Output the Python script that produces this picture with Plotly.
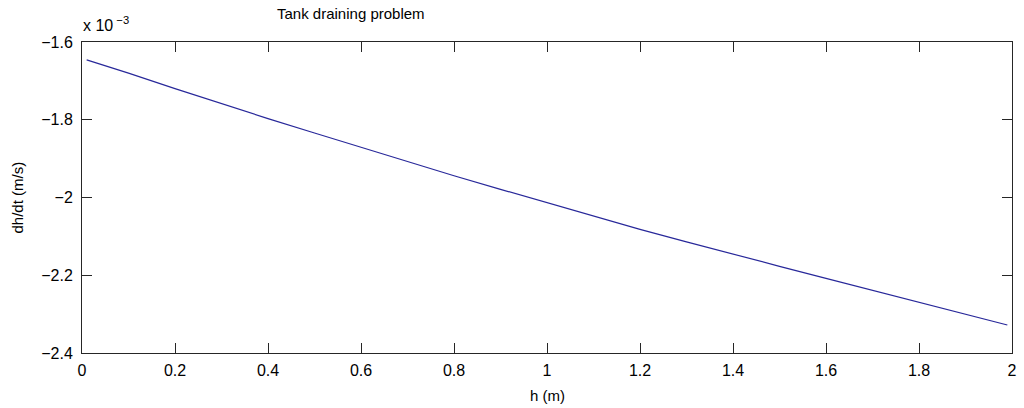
import plotly.graph_objects as go

# Liquid height in the tank (m)
h_m = [0.01, 0.1, 0.2, 0.3, 0.4, 0.5, 0.6, 0.7, 0.8, 0.9, 1.0,
       1.1, 1.2, 1.3, 1.4, 1.5, 1.6, 1.7, 1.8, 1.9, 1.99]
# Rate of level change, in units of 1e-3 m/s
dhdt_e3 = [-1.646, -1.680, -1.720, -1.759, -1.797, -1.834, -1.871, -1.908,
           -1.944, -1.979, -2.014, -2.048, -2.082, -2.114, -2.146, -2.177,
           -2.208, -2.239, -2.270, -2.300, -2.328]

x_ticks = [0, 0.2, 0.4, 0.6, 0.8, 1, 1.2, 1.4, 1.6, 1.8, 2]
x_tick_text = ["0", "0.2", "0.4", "0.6", "0.8", "1", "1.2", "1.4", "1.6", "1.8", "2"]
y_ticks = [-2.4, -2.2, -2.0, -1.8, -1.6]
y_tick_text = ["\u22122.4", "\u22122.2", "\u22122", "\u22121.8", "\u22121.6"]

FONT = "Liberation Sans, Arial, Helvetica, sans-serif"
AX = "#262626"

fig = go.Figure()
fig.add_trace(go.Scatter(
    x=h_m, y=dhdt_e3, mode="lines",
    line=dict(color="#28289a", width=1.2),
    showlegend=False, hoverinfo="skip",
))

axis_common = dict(
    showgrid=False, zeroline=False, showline=True, linecolor=AX, linewidth=1,
    mirror="allticks", ticks="inside", ticklen=10, tickwidth=1, tickcolor=AX,
    tickfont=dict(family=FONT, size=16, color="#000000"),
)

fig.update_layout(
    width=1024, height=408,
    margin=dict(l=82, r=7, t=42, b=55),
    paper_bgcolor="white", plot_bgcolor="white",
    font=dict(family=FONT, color="#000000"),
    xaxis=dict(range=[0, 2], tickvals=x_ticks, ticktext=x_tick_text,
               ticklabelstandoff=3, **axis_common),
    yaxis=dict(range=[-2.4, -1.6], tickvals=y_ticks, ticktext=y_tick_text,
               ticklabelstandoff=5, **axis_common),
)

# Title, axis labels and the exponent marker
fig.add_annotation(text="Tank draining problem", xref="paper", yref="paper",
                   x=(352 - 82) / 935, y=1, yshift=29, showarrow=False,
                   xanchor="center", yanchor="middle",
                   font=dict(family=FONT, size=15))
fig.add_annotation(text="h (m)", xref="paper", yref="paper",
                   x=0.5, y=0, yshift=-42, showarrow=False,
                   xanchor="center", yanchor="middle",
                   font=dict(family=FONT, size=15))
fig.add_annotation(text="dh/dt (m/s)", xref="paper", yref="paper",
                   x=0, xshift=-65, y=0.5, textangle=-90, showarrow=False,
                   xanchor="center", yanchor="middle",
                   font=dict(family=FONT, size=15))
fig.add_annotation(text="x 10<sup> \u22123</sup>", xref="paper", yref="paper",
                   x=0, y=1, xshift=-1, yshift=6, showarrow=False,
                   xanchor="left", yanchor="bottom",
                   font=dict(family=FONT, size=16))

fig.write_html("out.html")
